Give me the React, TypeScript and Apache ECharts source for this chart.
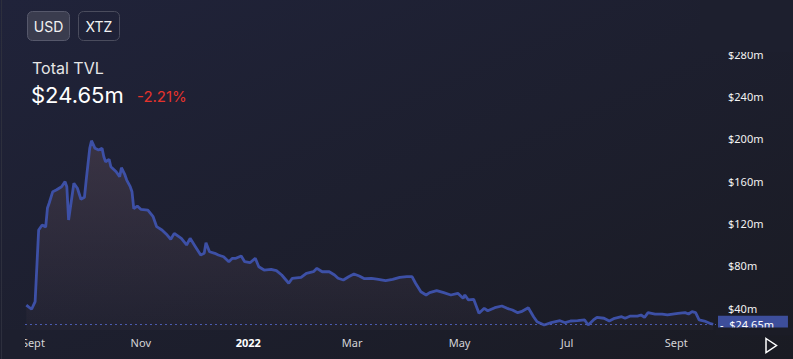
import { useEffect, useRef } from 'react';
import * as echarts from 'echarts';

const dates = [
  '2021-08-28','2021-08-31','2021-09-02','2021-09-04','2021-09-06','2021-09-08','2021-09-09','2021-09-10','2021-09-12','2021-09-14',
  '2021-09-17','2021-09-19','2021-09-20','2021-09-21','2021-09-24','2021-09-26','2021-09-28','2021-09-30','2021-10-01','2021-10-03',
  '2021-10-04','2021-10-06','2021-10-08','2021-10-10','2021-10-11','2021-10-12','2021-10-14','2021-10-15','2021-10-18','2021-10-20',
  '2021-10-21','2021-10-23','2021-10-24','2021-10-26','2021-10-27','2021-10-28','2021-10-30','2021-11-01','2021-11-05','2021-11-08',
  '2021-11-10','2021-11-13','2021-11-16','2021-11-18','2021-11-20','2021-11-24','2021-11-27','2021-11-29','2021-12-02','2021-12-05',
  '2021-12-07','2021-12-08','2021-12-10','2021-12-13','2021-12-15','2021-12-18','2021-12-21','2021-12-23','2021-12-25','2021-12-28',
  '2021-12-30','2022-01-02','2022-01-05','2022-01-07','2022-01-10','2022-01-14','2022-01-17','2022-01-20','2022-01-24','2022-01-26',
  '2022-01-31','2022-02-03','2022-02-07','2022-02-09','2022-02-12','2022-02-16','2022-02-19','2022-02-21','2022-02-24','2022-02-27',
  '2022-03-02','2022-03-05','2022-03-08','2022-03-12','2022-03-15','2022-03-20','2022-03-24','2022-03-28','2022-04-01','2022-04-04',
  '2022-04-06','2022-04-09','2022-04-12','2022-04-14','2022-04-18','2022-04-22','2022-04-26','2022-04-30','2022-05-03','2022-05-04',
  '2022-05-06','2022-05-09','2022-05-12','2022-05-15','2022-05-17','2022-05-21','2022-05-25','2022-05-28','2022-05-31','2022-06-03',
  '2022-06-05','2022-06-09','2022-06-12','2022-06-14','2022-06-18','2022-06-22','2022-06-27','2022-06-30','2022-07-03','2022-07-07',
  '2022-07-11','2022-07-13','2022-07-16','2022-07-18','2022-07-22','2022-07-25','2022-07-28','2022-08-01','2022-08-03','2022-08-06',
  '2022-08-10','2022-08-12','2022-08-14','2022-08-16','2022-08-20','2022-08-24','2022-08-27','2022-08-30','2022-09-02','2022-09-06',
  '2022-09-08','2022-09-10','2022-09-12','2022-09-14','2022-09-17','2022-09-20','2022-09-22',
];

const tvl = [
  42.8, 38.8, 46, 113.7, 118.5, 116.6, 134.5, 139.3, 150, 151.6,
  154.7, 159.5, 154.7, 123.2, 157.9, 153.2, 142.8, 144.7, 161, 191,
  198.2, 191, 189.4, 191, 183, 178.3, 180.6, 173.6, 168.9, 164.2,
  172.7, 165.8, 161, 154.7, 150, 134, 136.4, 133.3, 132.5, 126.3,
  116.9, 113.8, 109, 105, 110.6, 105.9, 99.6, 105.9, 98, 90.1,
  91.7, 101.8, 93.2, 91.7, 90.1, 88.5, 83.8, 87, 87, 89.2,
  83.8, 82.8, 87, 79, 75.9, 76.6, 75.3, 71.2, 63.4, 68.1,
  69, 72.8, 74.3, 77.5, 74.3, 74.3, 71.2, 68.1, 66.5, 69.6,
  72.2, 70.3, 67.7, 68.1, 67.4, 65.8, 67.1, 69, 69.6, 69.6,
  63.4, 55.4, 52.3, 54.5, 56.4, 54.5, 52.3, 53.9, 49.2, 52.3,
  47.6, 48.2, 35, 39.7, 37.4, 40.3, 41.9, 39.7, 38.1, 35.6,
  36.5, 40.3, 31.8, 27, 23.9, 26.1, 28, 26.1, 27.7, 28,
  28.7, 23.9, 28.7, 31.2, 30.3, 27.7, 30.3, 31.8, 30.3, 32.4,
  32.4, 33.4, 31.2, 35.6, 34.3, 34.3, 33.4, 34.3, 35, 35.6,
  34.3, 36.5, 35.6, 28.7, 27.7, 25.5, 24.65,
];

const xTickDates = ['2021-09-01', '2021-11-01', '2022-01-01', '2022-03-01', '2022-05-01', '2022-07-01', '2022-09-01'];
const xTickLabels = ['Sept', 'Nov', '2022', 'Mar', 'May', 'Jul', 'Sept'];
const yTicks = [40, 80, 120, 160, 200, 240, 280];
const currencies = ['USD', 'XTZ'];
const title = 'Total TVL';
const currentValue = 24.65;
const currentText = '$24.65m';
const changeText = '-2.21%';

const xMin = '2021-08-27T06:00:00';
const xMax = '2022-09-23T14:00:00';
const yMin = 19.2;
const yMax = 288.7;

const ts = (s: string) => new Date(s.length === 10 ? s + 'T00:00:00' : s).getTime();

export default function App() {
  const ref = useRef<HTMLDivElement>(null);
  useEffect(() => {
    const chart = echarts.init(ref.current!, null, { renderer: 'svg' });
    const tickTs = xTickDates.map(ts);
    const option: any = {
      animation: false,
      backgroundColor: 'transparent',
      grid: { left: 25, right: 77, top: 45, bottom: 29, containLabel: false },
      xAxis: {
        type: 'value',
        min: ts(xMin),
        max: ts(xMax),
        axisLine: { show: false },
        axisTick: { show: false },
        splitLine: { show: false },
        axisLabel: {
          customValues: tickTs,
          hideOverlap: false,
          showMinLabel: true,
          showMaxLabel: true,
          margin: 7,
          fontSize: 11,
          fontFamily: 'Noto Sans',
          color: '#d4d4d8',
          formatter: (v: number) => {
            const i = tickTs.indexOf(v);
            const s = i >= 0 ? xTickLabels[i] : '';
            return /^\d{4}$/.test(s) ? `{b|${s}}` : s;
          },
          rich: { b: { fontWeight: 'bold', color: '#ffffff', fontSize: 11, fontFamily: 'Noto Sans' } },
        },
      },
      yAxis: {
        type: 'value',
        position: 'right',
        min: yMin,
        max: yMax,
        axisLine: { show: false },
        axisTick: { show: false },
        splitLine: { show: false },
        axisLabel: {
          customValues: yTicks,
          margin: 12,
          padding: [0, 0, 3, 0],
          fontSize: 11,
          fontFamily: 'Noto Sans',
          color: '#f2f2f2',
          formatter: (v: number) => `$${v}m`,
        },
      },
      series: [
        {
          type: 'line',
          data: dates.map((d, i) => [ts(d), tvl[i]]),
          showSymbol: false,
          symbol: 'none',
          lineStyle: { color: '#3d50a6', width: 2.8 },
          itemStyle: { color: '#3d50a6' },
          areaStyle: {
            color: new echarts.graphic.LinearGradient(0, 0, 0, 1, [
              { offset: 0, color: 'rgba(76,64,78,0.85)' },
              { offset: 1, color: 'rgba(76,64,78,0.15)' },
            ]),
          },
          markLine: {
            silent: true,
            symbol: ['none', 'none'],
            data: [{ yAxis: currentValue }],
            lineStyle: { color: '#4a5bb0', width: 1, type: [2, 3] },
            label: {
              show: true,
              position: 'end',
              distance: 2,
              formatter: '-  ' + currentText,
              backgroundColor: '#3d4e9b',
              color: '#ffffff',
              fontSize: 11,
              fontFamily: 'Noto Sans',
              padding: [3, 14, 3, 2],
            },
          },
        },
      ],
      graphic: [
        { type: 'line', z: 200, shape: { x1: 1.5, y1: 0, x2: 1.5, y2: 359 }, style: { stroke: '#2d2f3d', lineWidth: 1 } },
        { type: 'rect', z: 150, shape: { x: 700, y: 0, width: 93, height: 52 }, style: { fill: '#1d1f2e' } },
        { type: 'rect', z: 150, shape: { x: 3, y: 330, width: 22, height: 29 }, style: { fill: '#1d1f2e' } },
        { type: 'rect', z: 150, shape: { x: 716, y: 327.5, width: 77, height: 8 }, style: { fill: '#1b1c26' } },
        {
          type: 'rect', z: 200,
          shape: { x: 27.5, y: 11.5, width: 42, height: 29, r: 5 },
          style: { fill: '#3a3c4e', stroke: '#56586b', lineWidth: 1 },
        },
        {
          type: 'text', z: 201, x: 48.5, y: 26.5,
          style: { text: currencies[0], fontSize: 14, fontFamily: 'Inter', fill: '#f2f2f2', align: 'center', verticalAlign: 'middle' },
        },
        {
          type: 'rect', z: 200,
          shape: { x: 78.5, y: 11.5, width: 41, height: 29, r: 5 },
          style: { fill: 'rgba(0,0,0,0)', stroke: '#4a4c5d', lineWidth: 1 },
        },
        {
          type: 'text', z: 201, x: 99, y: 26.5,
          style: { text: currencies[1], fontSize: 14, fontFamily: 'Inter', fill: '#f2f2f2', align: 'center', verticalAlign: 'middle' },
        },
        {
          type: 'text', z: 201, x: 32, y: 67.5,
          style: { text: title, fontSize: 16, fontFamily: 'Inter', fill: '#e6e6e6', verticalAlign: 'middle' },
        },
        {
          type: 'text', z: 201, x: 31, y: 95,
          style: { text: currentText, fontSize: 22, fontFamily: 'Inter', fill: '#ffffff', verticalAlign: 'middle' },
        },
        {
          type: 'text', z: 201, x: 137, y: 96,
          style: { text: changeText, fontSize: 15, fontFamily: 'Inter', fill: '#e5332c', verticalAlign: 'middle' },
        },
        {
          type: 'polygon', z: 201,
          shape: { points: [[766, 338.5], [776.5, 345.5], [766, 352.5]] },
          style: { fill: 'rgba(0,0,0,0)', stroke: '#ffffff', lineWidth: 1.5 },
        },
      ],
    };
    chart.setOption(option);
    return () => chart.dispose();
  }, []);
  return (
    <div
      style={{
        position: 'absolute',
        left: 0,
        top: 0,
        width: 793,
        height: 359,
        background: 'linear-gradient(to bottom right, #20233a, #1a1b23)',
      }}
    >
      <div ref={ref} style={{ width: 793, height: 359 }} />
    </div>
  );
}
